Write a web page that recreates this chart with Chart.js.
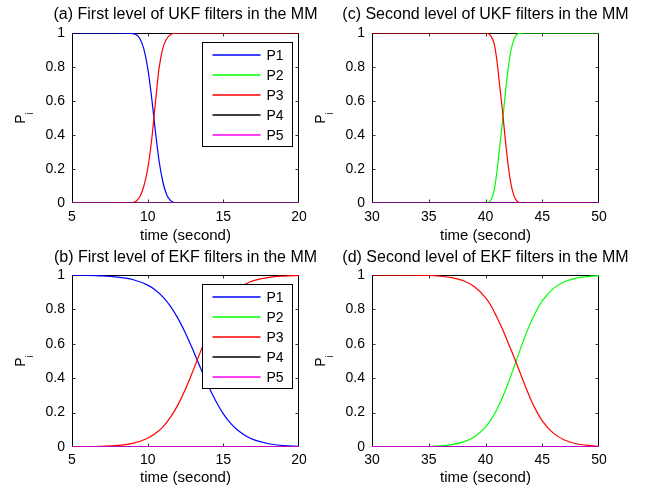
<!DOCTYPE html>
<html><head><meta charset="utf-8">
<script src="https://cdn.jsdelivr.net/npm/chart.js@4.4.1/dist/chart.umd.min.js"></script>
<style>
html,body{margin:0;padding:0;background:#fff;width:646px;height:490px;overflow:hidden;}
canvas{position:absolute;}
</style></head><body>
<canvas id="ca" width="371" height="245" style="left:0;top:0"></canvas>
<canvas id="cc" width="371" height="245" style="left:300px;top:0"></canvas>
<canvas id="cb" width="371" height="245" style="left:0;top:245px"></canvas>
<canvas id="cd" width="371" height="245" style="left:300px;top:245px"></canvas>
<script>
// ---------------- data ----------------
const seriesLabels = ['P1', 'P2', 'P3', 'P4', 'P5'];
const panelTitles = [
  '(a) First level of UKF filters in the MM',
  '(b) First level of EKF filters in the MM',
  '(c) Second level of UKF filters in the MM',
  '(d) Second level of EKF filters in the MM'
];
const xAxisLabel = 'time (second)';
const xTicksAB = [5, 10, 15, 20];
const xTicksCD = [30, 35, 40, 45, 50];
const yTicks = [0, 0.2, 0.4, 0.6, 0.8, 1];
const yTickLabels = ['0', '0.2', '0.4', '0.6', '0.8', '1'];

const flatTimeAB = [5, 20];
const flatTimeCD = [30, 50];
const flatZero = [0, 0];

// (a) UKF first level
const timeA = [5, 8, 8.5, 9, 9.25, 9.5, 9.75, 10, 10.25, 10.5, 10.75, 11, 11.25, 11.5, 11.75, 12, 12.5, 20];
const p1A   = [1, 1, 0.999, 0.997, 0.99, 0.965, 0.905, 0.795, 0.63, 0.43, 0.25, 0.125, 0.05, 0.015, 0.003, 0, 0, 0];
const p3A   = [0, 0, 0.001, 0.003, 0.012, 0.04, 0.1, 0.2, 0.36, 0.58, 0.79, 0.91, 0.965, 0.99, 0.998, 1, 1, 1];

// (b) EKF first level
const timeB = [5, 6, 7, 8, 9, 10, 10.5, 11, 11.5, 12, 12.5, 13, 13.5, 14, 14.5, 15, 15.5, 16, 16.5, 17, 18, 19, 20];
const p1B   = [0.999, 0.998, 0.995, 0.988, 0.974, 0.941, 0.913, 0.873, 0.819, 0.748, 0.662, 0.563, 0.458, 0.357, 0.267, 0.193, 0.136, 0.094, 0.064, 0.043, 0.019, 0.008, 0.004];
const p3B   = [0.001, 0.0015, 0.004, 0.009, 0.021, 0.051, 0.078, 0.116, 0.172, 0.245, 0.337, 0.444, 0.556, 0.663, 0.755, 0.828, 0.884, 0.922, 0.949, 0.967, 0.986, 0.994, 0.998];

// (c) UKF second level
const timeC = [30, 40, 40.25, 40.5, 40.75, 41, 41.25, 41.5, 41.75, 42, 42.25, 42.5, 42.75, 43, 43.5, 50];
const p3C   = [1, 1, 0.995, 0.98, 0.94, 0.84, 0.69, 0.54, 0.37, 0.22, 0.11, 0.045, 0.012, 0.002, 0, 0];
const p2C   = [0, 0, 0.004, 0.02, 0.07, 0.18, 0.33, 0.48, 0.645, 0.79, 0.9, 0.96, 0.99, 0.998, 1, 1];

// (d) EKF second level
const timeD = [30, 33, 35, 36, 37, 38, 39, 40, 40.5, 41, 41.5, 42, 42.5, 43, 43.5, 44, 44.5, 45, 46, 47, 48, 49, 50];
const p3D   = [1, 0.999, 0.997, 0.993, 0.985, 0.968, 0.933, 0.868, 0.82, 0.755, 0.685, 0.605, 0.525, 0.44, 0.355, 0.275, 0.207, 0.152, 0.079, 0.039, 0.019, 0.009, 0.004];
const p2D   = [0, 0.001, 0.003, 0.0065, 0.014, 0.028, 0.058, 0.116, 0.161, 0.218, 0.289, 0.372, 0.463, 0.556, 0.646, 0.726, 0.794, 0.849, 0.922, 0.962, 0.982, 0.991, 0.996];

// ---------------- styling / layout ----------------
const seriesColors = ['#0000ff', '#00ff00', '#ff0000', '#000000', '#ff00ff'];
const FONT = '"Liberation Sans", Arial, Helvetica, sans-serif';
Chart.defaults.font.family = FONT;
Chart.defaults.font.size = 14;
Chart.defaults.color = '#000';

const TITLE_SIZE = 16, XLAB_SIZE = 15;
const rows = [
  {titleY: 15, chartTop: 33, chartBottom: 203, tickY: 217, xlabelY: 237, ylabelY: 118},
  {titleY: 258 - 245, chartTop: 30, chartBottom: 202, tickY: 215, xlabelY: 233, ylabelY: 116}
];
const CH = 245, AXL = 72, AXRW = 72;

function pts(times, vals) { return times.map((t, i) => ({x: t, y: vals[i]})); }

const framePlugin = {
  id: 'frame',
  beforeDatasetsDraw(chart) {
    const {ctx, chartArea: a, scales: {x, y}} = chart;
    const L = Math.round(a.left) + 0.5, R = Math.round(a.right) - 0.5;
    const T = Math.round(a.top) + 0.5, B = Math.round(a.bottom) - 0.5;
    ctx.save();
    ctx.lineWidth = 1;
    ctx.strokeStyle = '#000';
    ctx.strokeRect(L, T, R - L, B - T);
    ctx.strokeStyle = '#333';
    const tl = 3;
    ctx.beginPath();
    x.ticks.forEach(t => {
      const px = Math.round(x.getPixelForValue(t.value)) + 0.5;
      if (px <= L + 1 || px >= R - 1) return;
      ctx.moveTo(px, B); ctx.lineTo(px, B - tl);
      ctx.moveTo(px, T); ctx.lineTo(px, T + tl);
    });
    y.ticks.forEach(t => {
      const py = Math.round(y.getPixelForValue(t.value)) + 0.5;
      if (py <= T + 1 || py >= B - 1) return;
      ctx.moveTo(L, py); ctx.lineTo(L + tl, py);
      ctx.moveTo(R, py); ctx.lineTo(R - tl, py);
    });
    ctx.stroke();
    ctx.restore();
  },
  afterDatasetsDraw(chart, args, opts) {
    if (!opts.legend) return;
    const {ctx, chartArea: a} = chart;
    const bx = Math.round(a.left) + 130 + 0.5, by = Math.round(a.top) + opts.legendTop + 0.5;
    const bw = 90, bh = 104;
    ctx.save();
    ctx.fillStyle = '#fff';
    ctx.fillRect(bx, by, bw, bh);
    ctx.strokeStyle = '#000';
    ctx.lineWidth = 1;
    ctx.strokeRect(bx, by, bw, bh);
    ctx.font = '14px ' + FONT;
    ctx.textBaseline = 'middle';
    ctx.textAlign = 'left';
    seriesLabels.forEach((lab, i) => {
      const ly = Math.round(by + 12 + i * 20);
      ctx.strokeStyle = seriesColors[i];
      ctx.lineWidth = 1.5;
      ctx.beginPath(); ctx.moveTo(bx + 10, ly); ctx.lineTo(bx + 58, ly); ctx.stroke();
      ctx.fillStyle = '#000';
      ctx.fillText(lab, bx + 64, ly + 1);
    });
    ctx.restore();
  },
  afterDraw(chart, args, opts) {
    const {ctx} = chart;
    ctx.save();
    ctx.translate(25, opts.ylabelY);
    ctx.rotate(-Math.PI / 2);
    ctx.fillStyle = '#000';
    ctx.textBaseline = 'alphabetic';
    ctx.textAlign = 'left';
    ctx.font = '14px ' + FONT;
    const wP = ctx.measureText('P').width;
    ctx.font = '10px ' + FONT;
    const wi = ctx.measureText('i').width;
    const x0 = -(wP + wi) / 2;
    ctx.font = '14px ' + FONT;
    ctx.fillText('P', x0, 0);
    ctx.font = '10px ' + FONT;
    ctx.fillText('i', x0 + wP, 8);
    ctx.restore();
  }
};

function makePanel(canvasId, title, row, xMin, xMax, xTicks, curves, p5Line, legend) {
  const r = rows[row];
  const tHalf = TITLE_SIZE * 1.2 / 2, xHalf = XLAB_SIZE * 1.2 / 2;
  const datasets = curves.map((c, i) => ({
    label: seriesLabels[i],
    data: pts(c[0], c[1]),
    borderColor: (i === 4 ? p5Line : seriesColors[i]),
    borderWidth: (c[0].length === 2 ? 1.6 : 1.2),
    pointRadius: 0,
    cubicInterpolationMode: 'monotone',
    fill: false,
    order: 4 - i
  }));
  new Chart(document.getElementById(canvasId), {
    type: 'line',
    data: {datasets},
    plugins: [framePlugin],
    options: {
      responsive: false,
      animation: false,
      devicePixelRatio: 1,
      events: [],
      layout: {padding: 0},
      plugins: {
        legend: {display: false},
        tooltip: {enabled: false},
        title: {
          display: true, text: title, fullSize: true, color: '#000',
          font: {size: TITLE_SIZE, weight: 'normal', family: FONT, lineHeight: 1.2},
          padding: {top: r.titleY - tHalf, bottom: r.chartTop - r.titleY - tHalf}
        },
        frame: {legend: legend, legendTop: 9, ylabelY: r.ylabelY}
      },
      scales: {
        x: {
          type: 'linear', min: xMin, max: xMax,
          afterBuildTicks: s => { s.ticks = xTicks.map(v => ({value: v})); },
          afterFit: s => { s.height = CH - r.chartBottom; },
          grid: {display: false, drawTicks: false},
          border: {display: false},
          ticks: {padding: r.tickY - r.chartBottom - 8.4, maxRotation: 0, autoSkip: false, color: '#000', font: {size: 14}},
          title: {display: true, text: xAxisLabel, color: '#000', font: {size: XLAB_SIZE, lineHeight: 1.2},
                  padding: {top: 0, bottom: Math.max(0, CH - r.xlabelY - xHalf)}}
        },
        y: {
          type: 'linear', min: 0, max: 1,
          afterBuildTicks: s => { s.ticks = yTicks.map(v => ({value: v})); },
          afterFit: s => { s.width = AXL; },
          grid: {display: false, drawTicks: false},
          border: {display: false},
          ticks: {padding: 7, autoSkip: false, color: '#000', font: {size: 14},
                  callback: (v, i) => yTickLabels[i]}
        },
        yRight: {
          type: 'linear', position: 'right', display: true, min: 0, max: 1,
          afterFit: s => { s.width = AXRW; },
          grid: {display: false, drawTicks: false},
          border: {display: false},
          ticks: {display: false}
        }
      }
    }
  });
}

makePanel('ca', panelTitles[0], 0, 5, 20, xTicksAB,
  [[timeA, p1A], [flatTimeAB, flatZero], [timeA, p3A], [flatTimeAB, flatZero], [flatTimeAB, flatZero]],
  'rgba(255,0,255,0.6)', true);
makePanel('cb', panelTitles[1], 1, 5, 20, xTicksAB,
  [[timeB, p1B], [flatTimeAB, flatZero], [timeB, p3B], [flatTimeAB, flatZero], [flatTimeAB, flatZero]],
  '#ff00ff', true);
makePanel('cc', panelTitles[2], 0, 30, 50, xTicksCD,
  [[flatTimeCD, flatZero], [timeC, p2C], [timeC, p3C], [flatTimeCD, flatZero], [flatTimeCD, flatZero]],
  'rgba(255,0,255,0.6)', false);
makePanel('cd', panelTitles[3], 1, 30, 50, xTicksCD,
  [[flatTimeCD, flatZero], [timeD, p2D], [timeD, p3D], [flatTimeCD, flatZero], [flatTimeCD, flatZero]],
  '#ff00ff', false);
</script>
</body></html>
